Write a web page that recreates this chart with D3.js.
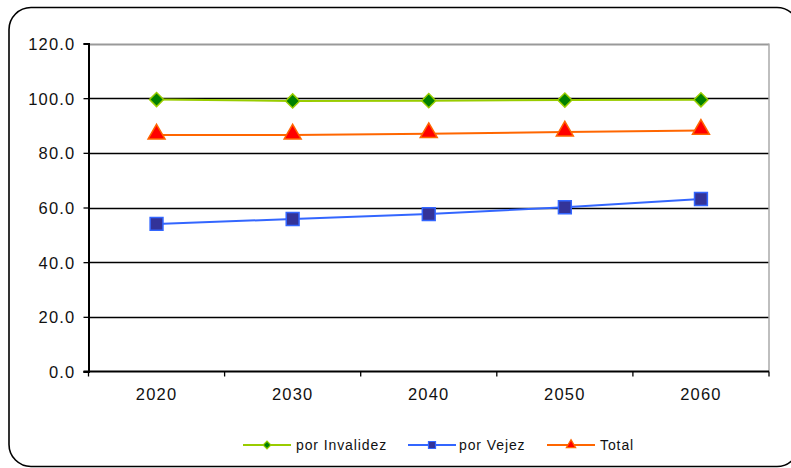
<!DOCTYPE html>
<html><head><meta charset="utf-8">
<script src="https://cdn.jsdelivr.net/npm/d3@7"></script>
<style>body{margin:0;background:#fff}svg{display:block}text{font-family:"Liberation Sans",Arial,sans-serif}</style>
</head><body><svg id="c" width="791" height="468"></svg>
<script>
const categories = ["2020","2030","2040","2050","2060"];
const invalidez = [99.5, 99.0, 99.1, 99.3, 99.4];
const vejez = [54.0, 55.8, 57.6, 60.1, 63.1];
const total = [86.5, 86.5, 87.0, 87.6, 88.2];
const yTicks = [0,20,40,60,80,100,120];
const seriesNames = ["por Invalidez","por Vejez","Total"];

const svg = d3.select("#c");
const L=88.5, R=769, T=43.5, B=371.5;
const x = d3.scaleBand().domain(categories).range([L,R]);
const y = d3.scaleLinear().domain([0,120]).range([B,T]);

svg.append("rect").attr("x",9).attr("y",7.5).attr("width",790).attr("height",459)
  .attr("rx",22).attr("fill","#fff").attr("stroke","#000").attr("stroke-width",1.6);

svg.append("g").selectAll("line").data(yTicks.filter(d=>d>0)).join("line")
  .attr("x1",L).attr("x2",R).attr("y1",d=>Math.round(y(d))+0.5).attr("y2",d=>Math.round(y(d))+0.5)
  .attr("stroke",d=>d===120?"#999":"#000").attr("stroke-width",d=>d===120?2:1.6);
svg.append("line").attr("x1",R).attr("x2",R).attr("y1",T).attr("y2",B).attr("stroke","#aaa").attr("stroke-width",1.5);

const yAxis = d3.axisLeft(y).tickValues(yTicks).tickFormat(d=>d3.format(".1f")(d)).tickSize(5).tickPadding(8);
const gy = svg.append("g").attr("transform",`translate(${L},0)`).call(yAxis)
  .attr("font-family",null).attr("font-size",null);
const xTicksPos = categories.map(c=>x(c)).concat([R]);
const gx = svg.append("g").attr("transform",`translate(0,${B})`);
gx.append("line").attr("x1",L-5).attr("x2",R).attr("stroke","#000").attr("stroke-width",2);
gx.selectAll("line.t").data(xTicksPos).join("line").attr("class","t")
  .attr("x1",d=>d).attr("x2",d=>d).attr("y1",0).attr("y2",5).attr("stroke","#000").attr("stroke-width",1.3);
gx.selectAll("text").data(categories).join("text")
  .attr("x",d=>x(d)+x.bandwidth()/2).attr("y",28.5).attr("text-anchor","middle")
  .style("font-size","16.5px").style("letter-spacing","1.2px").attr("fill","#111").text(d=>d);
gy.select(".domain").attr("stroke","#000").attr("stroke-width",2);
gy.selectAll(".tick line").attr("stroke","#000").attr("stroke-width",1.3);
gy.selectAll(".tick text").style("font-size","16.5px").style("letter-spacing","1.2px").attr("fill","#111").attr("dy","0.36em");

const cx = c => x(c)+x.bandwidth()/2;
const line = d3.line().x((d,i)=>cx(categories[i])).y(d=>y(d));

const series = [
  {name:seriesNames[0], vals:invalidez, line:"#99cc00", fill:"#008000", stroke:"#99cc00", sym:d3.symbolSquare, sz:100, rot:45, dy:0},
  {name:seriesNames[1], vals:vejez, line:"#3366ff", fill:"#333399", stroke:"#3366ff", sym:d3.symbolSquare, sz:165, rot:0, dy:0},
  {name:seriesNames[2], vals:total, line:"#ff6600", fill:"#ff0000", stroke:"#ff6600", sym:d3.symbolTriangle, sz:125, rot:0, dy:-1}
];

series.forEach(s=>{
  svg.append("path").datum(s.vals).attr("d",line).attr("fill","none").attr("stroke",s.line).attr("stroke-width",2);
});
series.forEach(s=>{
  svg.append("g").selectAll("path").data(s.vals).join("path")
    .attr("transform",(d,i)=>`translate(${cx(categories[i])},${y(d)+s.dy}) rotate(${s.rot})`)
    .attr("d",d3.symbol(s.sym,s.sz)).attr("fill",s.fill).attr("stroke",s.stroke).attr("stroke-width",1.5);
});

const legX=[243,408,547], legText=[296,459,600], ly=445;
series.forEach((s,i)=>{
  const g=svg.append("g");
  g.append("line").attr("x1",legX[i]).attr("x2",legX[i]+48).attr("y1",ly).attr("y2",ly).attr("stroke",s.line).attr("stroke-width",2);
  g.append("path").attr("transform",`translate(${legX[i]+24},${ly}) rotate(${s.rot})`).attr("d",d3.symbol(s.sym,s.sz*0.3))
    .attr("fill",s.fill).attr("stroke",s.stroke).attr("stroke-width",1.2);
  g.append("text").attr("x",legText[i]).attr("y",ly).attr("dy","0.36em").style("font-size","14px")
    .style("letter-spacing","0.9px").attr("fill","#111").text(s.name);
});
</script></body></html>
